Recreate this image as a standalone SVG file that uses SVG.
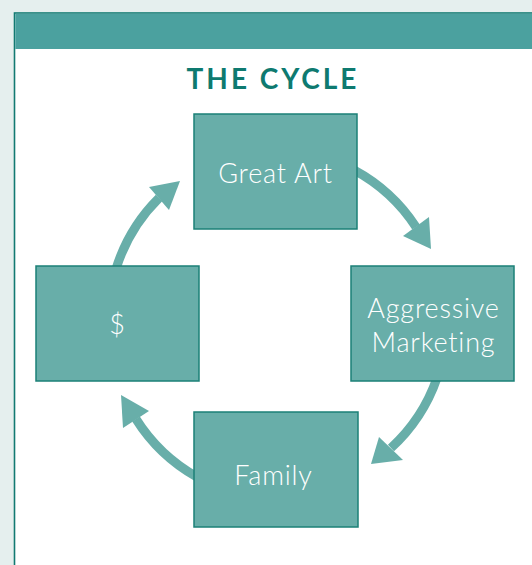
<svg xmlns="http://www.w3.org/2000/svg" width="532" height="565" viewBox="0 0 532 565">
<style>
.node rect{fill:#68aea9;stroke:#1b8077;stroke-width:1.5}
.node text{fill:#ffffff;font-family:Lato,"Noto Sans",sans-serif;font-weight:300;font-size:27px;letter-spacing:0.8px;text-anchor:middle}
.arc{fill:none;stroke:#68aea9;stroke-width:9}
.head{fill:#68aea9}
</style>
<rect x="0" y="0" width="532" height="565" fill="#e5efee"/>
<rect x="14.5" y="13" width="530" height="560" fill="#ffffff" stroke="#127a72" stroke-width="1.6"/>
<rect x="15.3" y="13.8" width="520" height="35.2" fill="#4ba19f"/>
<text x="273" y="89" font-family="Lato,'Noto Sans',sans-serif" font-weight="700" font-size="28" letter-spacing="3" fill="#0e7a70" text-anchor="middle">THE CYCLE</text>
<g id="connectors">
<path class="arc" d="M354,170 A171,171 0 0 1 416,227"/>
<polygon class="head" points="403,236 431,249 429,217"/>
<path class="arc" d="M437,378 A171,171 0 0 1 391,448"/>
<polygon class="head" points="379,437 371,464 403,460"/>
<path class="arc" d="M197,477 A171,171 0 0 1 136,419"/>
<polygon class="head" points="123,428 121,395 149,411"/>
<path class="arc" d="M116,269 A171,171 0 0 1 159,198"/>
<polygon class="head" points="149,187 180,181 169,210"/>
</g>
<g id="node-great-art" class="node">
<rect x="194" y="114" width="163" height="115"/>
<text x="275.5" y="183">Great Art</text>
</g>
<g id="node-marketing" class="node">
<rect x="351" y="266" width="163" height="115"/>
<text x="433.5" y="318">Aggressive</text>
<text x="433.5" y="352">Marketing</text>
</g>
<g id="node-family" class="node">
<rect x="194" y="412" width="164" height="115"/>
<text x="273.5" y="485">Family</text>
</g>
<g id="node-money" class="node">
<rect x="36" y="266" width="163" height="115"/>
<text x="117.5" y="334">$</text>
</g>
</svg>
